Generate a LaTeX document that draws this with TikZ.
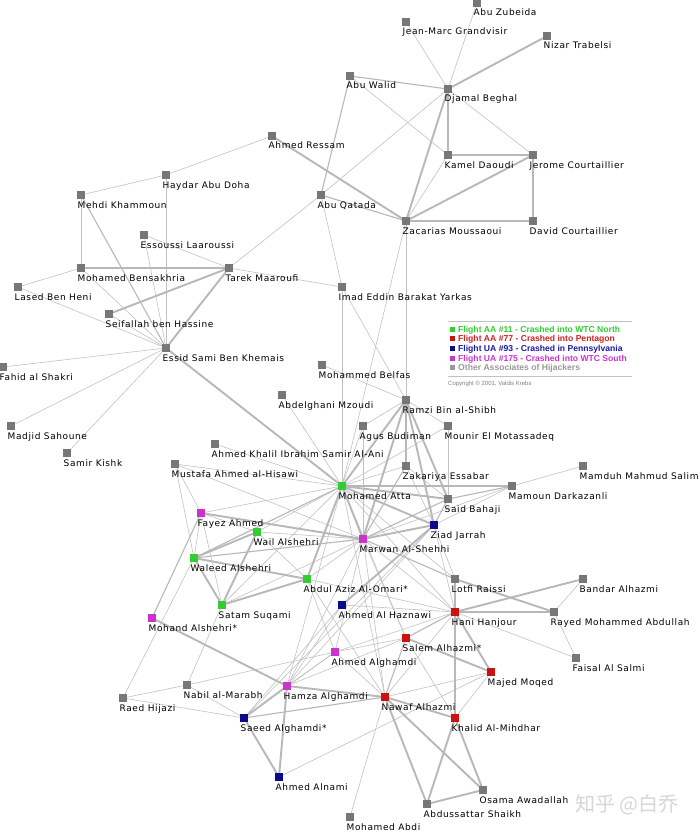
\documentclass[tikz,border=0pt]{standalone}
\usepackage{fontspec}
\setmainfont{DejaVu Sans}[LetterSpace=6.8]
\newfontfamily\legfont{Liberation Sans}
\newfontfamily\cjk{Noto Sans CJK SC}
\usetikzlibrary{backgrounds}
\definecolor{cg}{HTML}{33CC33}
\definecolor{cr}{HTML}{CC1111}
\definecolor{cb}{HTML}{0A0A8C}
\definecolor{cm}{HTML}{CC33CC}
\definecolor{co}{HTML}{777777}
\definecolor{ln}{HTML}{C2C2C2}
\definecolor{lnk}{HTML}{B8B8B8}
\definecolor{lgreen}{HTML}{33CC33}
\definecolor{lred}{HTML}{CC2222}
\definecolor{lblue}{HTML}{1A1AA6}
\definecolor{lmag}{HTML}{CC33CC}
\definecolor{lgray}{HTML}{999999}
\tikzset{
  sq/.style={rectangle, inner sep=0pt, minimum size=7.5pt, fill=#1},
  g/.style={sq=cg}, r/.style={sq=cr}, b/.style={sq=cb}, m/.style={sq=cm}, o/.style={sq=co},
  lbl/.style={anchor=base west, inner sep=0pt, font=\fontsize{9}{10}\selectfont, text=black},
  ea/.style={draw=ln, line width=0.6pt},
  eb/.style={draw=lnk, line width=1.1pt},
  ec/.style={draw=lnk, line width=1.9pt},
  legsq/.style={rectangle, inner sep=0pt, minimum size=5pt, fill=#1},
  legtx/.style={anchor=base west, inner sep=0pt, font=\legfont\bfseries\fontsize{8.6}{9}\selectfont},
}
\newcommand\pers[5]{\node[#4] (#1) at (#2,#3) {};
  \node[lbl] (#1l) at ([shift={(-3.5,13)}]#1.center) {#5};}
\begin{document}
\begin{tikzpicture}[x=1pt,y=-1pt]
\useasboundingbox (0,0) rectangle (700,832);
% people
\pers{az}{477}{3}{o}{Abu Zubeida}
\pers{jm}{406}{22}{o}{Jean-Marc Grandvisir}
\pers{nt}{547}{36}{o}{Nizar Trabelsi}
\pers{aw}{350}{76}{o}{Abu Walid}
\pers{db}{448}{89}{o}{Djamal Beghal}
\pers{ar}{272}{136}{o}{Ahmed Ressam}
\pers{kd}{448}{155}{o}{Kamel Daoudi}
\pers{jc}{533}{155}{o}{Jerome Courtaillier}
\pers{hd}{166}{175}{o}{Haydar Abu Doha}
\pers{mk}{81}{195}{o}{Mehdi Khammoun}
\pers{aq}{321}{195}{o}{Abu Qatada}
\pers{zm}{406}{221}{o}{Zacarias Moussaoui}
\pers{dc}{533}{221}{o}{David Courtaillier}
\pers{el}{144}{235}{o}{Essoussi Laaroussi}
\pers{mb}{81}{268}{o}{Mohamed Bensakhria}
\pers{tm}{229}{268}{o}{Tarek Maaroufi}
\pers{lh}{18}{287}{o}{Lased Ben Heni}
\pers{ie}{342}{287}{o}{Imad Eddin Barakat Yarkas}
\pers{sh}{109}{314}{o}{Seifallah ben Hassine}
\pers{es}{166}{348}{o}{Essid Sami Ben Khemais}
\pers{fs}{3}{367}{o}{Fahid al Shakri}
\pers{mbf}{322}{365}{o}{Mohammed Belfas}
\pers{amz}{282}{395}{o}{Abdelghani Mzoudi}
\pers{rb}{406}{400}{o}{Ramzi Bin al-Shibh}
\pers{ms}{11}{426}{o}{Madjid Sahoune}
\pers{ab}{363}{426}{o}{Agus Budiman}
\pers{mm}{448}{426}{o}{Mounir El Motassadeq}
\pers{sk}{67}{453}{o}{Samir Kishk}
\pers{ak}{215}{444}{o}{Ahmed Khalil Ibrahim Samir Al-Ani}
\pers{mh}{175}{464}{o}{Mustafa Ahmed al-Hisawi}
\pers{ze}{406}{466}{o}{Zakariya Essabar}
\pers{mss}{583}{466}{o}{Mamduh Mahmud Salim}
\pers{ma}{342}{486}{g}{Mohamed Atta}
\pers{md}{512}{486}{o}{Mamoun Darkazanli}
\pers{sb}{448}{499}{o}{Said Bahaji}
\pers{fa}{201}{513}{m}{Fayez Ahmed}
\pers{zj}{434}{525}{b}{Ziad Jarrah}
\pers{wa}{257}{532}{g}{Wail Alshehri}
\pers{mas}{363}{539}{m}{Marwan Al-Shehhi}
\pers{wla}{194}{558}{g}{Waleed Alshehri}
\pers{aa}{307}{579}{g}{Abdul Aziz Al-Omari*}
\pers{lr}{455}{579}{o}{Lotfi Raissi}
\pers{ba}{583}{579}{o}{Bandar Alhazmi}
\pers{ss}{222}{605}{g}{Satam Suqami}
\pers{ahz}{342}{605}{b}{Ahmed Al Haznawi}
\pers{hh}{455}{612}{r}{Hani Hanjour}
\pers{rma}{554}{612}{o}{Rayed Mohammed Abdullah}
\pers{mal}{152}{618}{m}{Mohand Alshehri*}
\pers{sa}{406}{638}{r}{Salem Alhazmi*}
\pers{fas}{576}{658}{o}{Faisal Al Salmi}
\pers{ag}{335}{652}{m}{Ahmed Alghamdi}
\pers{mmq}{491}{672}{r}{Majed Moqed}
\pers{nm}{187}{685}{o}{Nabil al-Marabh}
\pers{hg}{287}{686}{m}{Hamza Alghamdi}
\pers{rh}{123}{698}{o}{Raed Hijazi}
\pers{na}{385}{697}{r}{Nawaf Alhazmi}
\pers{sg}{244}{718}{b}{Saeed Alghamdi*}
\pers{km}{455}{718}{r}{Khalid Al-Mihdhar}
\pers{an}{279}{777}{b}{Ahmed Alnami}
\pers{oa}{483}{790}{o}{Osama Awadallah}
\pers{ash}{427}{804}{o}{Abdussattar Shaikh}
\pers{mab}{350}{817}{o}{Mohamed Abdi}
% legend
\draw[ln, line width=1pt] (448,321) coordinate (lgA) -- (632,321) coordinate (lgB);
\node[legsq=cg] (k1) at (452.5,329) {};
\node[legtx, text=lgreen] (t1) at (458,332) {Flight AA \#11 - Crashed into WTC North};
\node[legsq=cr] (k2) at (452.5,338.5) {};
\node[legtx, text=lred] (t2) at (458,341.5) {Flight AA \#77 - Crashed into Pentagon};
\node[legsq=cb] (k3) at (452.5,348) {};
\node[legtx, text=lblue] (t3) at (458,351) {Flight UA \#93 - Crashed in Pennsylvania};
\node[legsq=cm] (k4) at (452.5,358) {};
\node[legtx, text=lmag] (t4) at (458,361) {Flight UA \#175 - Crashed into WTC South};
\node[legsq=lgray] (k5) at (452.5,367.5) {};
\node[legtx, text=lgray] (t5) at (458,370.5) {Other Associates of Hijackers};
\draw[ln, line width=1pt] (448,376) coordinate (lgC) -- (632,376) coordinate (lgD);
\node[anchor=base west, inner sep=0pt, text=gray, font=\legfont\fontsize{6}{7}\selectfont] (cp) at (448,385) {Copyright \textcopyright\ 2001, Valdis Krebs};
% watermark
\node[anchor=base west, inner sep=0pt, text=black!16, font=\cjk\fontsize{20}{22}\selectfont] (wm) at (575,811) {知乎 @白乔};
% edges
\begin{pgfonlayer}{background}
\fill[white] (0,0) rectangle (700,832);
\foreach \a/\b in {az/db, jm/db, db/aq, aw/kd, kd/zm, db/jc, ar/hd, hd/mk, hd/es, mk/mb, el/es, el/tm,
  mb/lh, mb/es, lh/es, sh/es, aq/tm, aq/ie, tm/ie, es/fs, es/ms, es/sk, zm/rb, zm/ma, ie/ma, ie/rb,
  mbf/rb, amz/ma, rb/mm, ma/mh, ma/ak, ma/fa, ma/wa, ma/ss, ma/hh, ma/na, ma/hg, ma/ze, ma/mm, ma/ab,
  ma/lr, ma/sa, mas/wa, mas/aa, mas/md, mas/hh, mas/sa, mas/na, mas/ag, mas/hg, mas/ab, mas/mh, mas/ss,
  zj/ze, zj/lr, zj/hh, zj/sg, zj/hg, zj/md, sb/mm, sb/ze, md/mss, hh/fas, hh/na, hh/ahz, hh/ag, hh/aa,
  ba/rma, rma/fas, sa/ag, sa/hg, sa/km, na/mmq, na/mab, na/ag, km/mmq, hg/ag, hg/ahz, sg/rh, sg/nm,
  sg/ahz, sg/ag, rh/nm, rh/wla, nm/ss, nm/ag, fa/mh, fa/wla, fa/ss, fa/wa, mh/wla, wa/aa, aa/ag, aa/na,
  an/mmq, ab/mas, rb/ab}
  \draw[ea] (\a) -- (\b);
\foreach \a/\b in {aw/db, aw/aq, kd/jc, aq/zm, mb/tm, mk/es, rb/ze, ma/md, ma/wla, mas/wla, mas/sb,
  mas/lr, mas/ze, zj/sb, sb/md, hh/km, hh/sa, sa/na, na/sg, mal/fa}
  \draw[eb] (\a) -- (\b);
\foreach \a/\b in {nt/db, db/kd, db/zm, jc/zm, jc/dc, zm/dc, ar/zm, sh/tm, tm/es, es/ma, rb/ma, rb/mas,
  rb/zj, rb/sb, ma/mas, ma/zj, ma/sb, ma/aa, mas/fa, mas/zj, zj/ahz, lr/hh, lr/rma, hh/rma, hh/ba, hh/mmq,
  sa/mmq, na/hg, na/km, na/oa, na/ash, km/ash, km/oa, oa/ash, hg/sg, hg/an, hg/mal, sg/an,
  wa/wla, wa/ss, wla/aa, wla/ss, aa/ss}
  \draw[ec] (\a) -- (\b);
\end{pgfonlayer}
\end{tikzpicture}
\end{document}
